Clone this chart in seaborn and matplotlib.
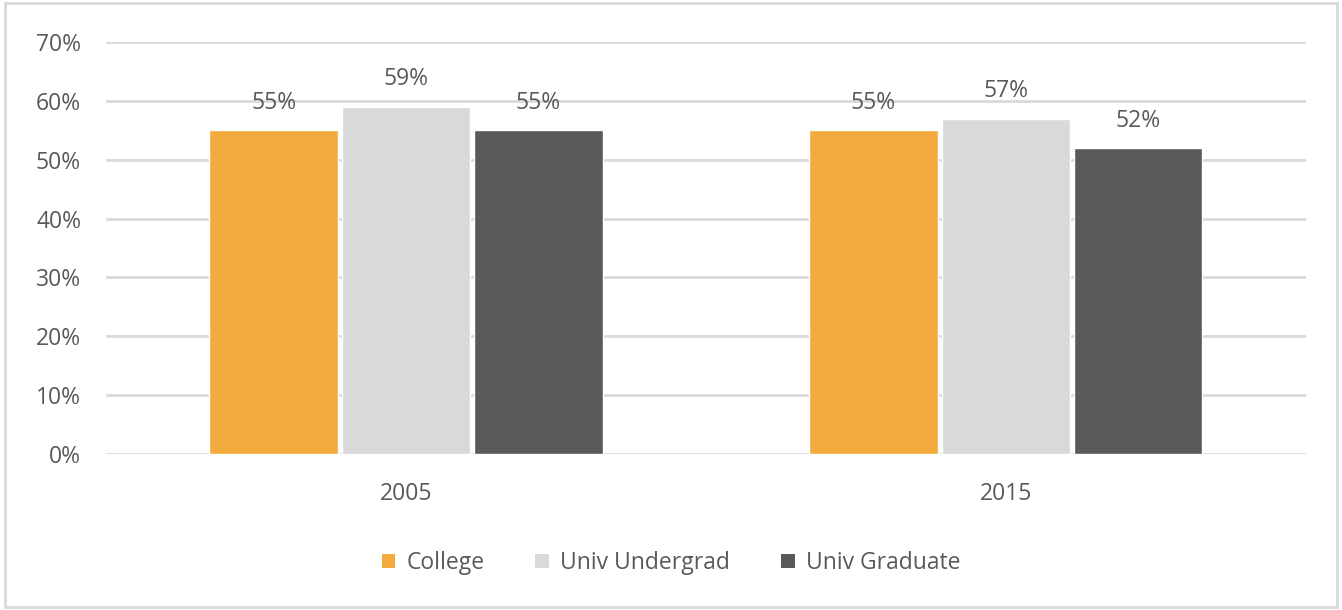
import pandas as pd
import numpy as np
import matplotlib.pyplot as plt
import seaborn as sns
from matplotlib.patches import Patch, Rectangle
from matplotlib.ticker import PercentFormatter

years = ['2005', '2015']
groups = ['College', 'Univ Undergrad', 'Univ Graduate']
college = [55, 55]
undergrad = [59, 57]
graduate = [55, 52]
colors = ['#F2AB3C', '#D9D9D9', '#595959']

df = pd.DataFrame({
    'year': years * 3,
    'group': [g for g in groups for _ in years],
    'value': college + undergrad + graduate,
})

sns.set_style('white')
plt.rcParams['font.family'] = ['Open Sans', 'DejaVu Sans']
text_color = '#595959'
fs = 16.5

fig = plt.figure(figsize=(13.42, 6.10), dpi=100)
ax = fig.add_axes([0.079, 0.2557, 0.894, 0.6754])

sns.barplot(data=df, x='year', y='value', hue='group', order=years,
            hue_order=groups, palette=colors, width=0.662, gap=0.03,
            saturation=1, legend=False, ax=ax)

ax.set_ylim(0, 70)
ax.set_xlim(-0.5, 1.5)
ax.set_yticks(np.arange(0, 71, 10))
ax.yaxis.set_major_formatter(PercentFormatter(decimals=0))
ax.yaxis.grid(True, color='#D9D9D9', linewidth=2)
ax.set_axisbelow(True)
for s in ax.spines.values():
    s.set_visible(False)
ax.tick_params(axis='both', length=0, labelsize=fs, colors=text_color)
ax.tick_params(axis='y', pad=18)
ax.tick_params(axis='x', pad=20)
ax.set_xlabel('')
ax.set_ylabel('')

for cont in ax.containers:
    ax.bar_label(cont, labels=[f'{v:.0f}%' for v in cont.datavalues],
                 padding=11, fontsize=fs, color=text_color)

handles = [Patch(facecolor=c, edgecolor='none') for c in colors]
fig.legend(handles, groups, loc='center', bbox_to_anchor=(0.5, 0.077), ncol=3,
           frameon=False, fontsize=fs, labelcolor=text_color,
           handlelength=0.6, handleheight=0.6, handletextpad=0.5, columnspacing=2.2)

fig.add_artist(Rectangle((0.004, 0.005), 0.992, 0.99, transform=fig.transFigure,
                         fill=False, edgecolor='#D9D9D9', linewidth=2))

fig.savefig('out.png', dpi=100)
